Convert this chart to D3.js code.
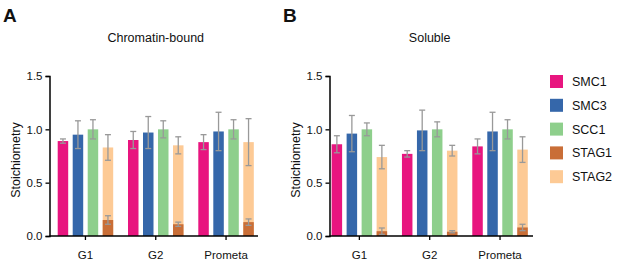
<!DOCTYPE html>
<html>
<head>
<meta charset="utf-8">
<script src="https://cdn.jsdelivr.net/npm/d3@7"></script>
<style>
  body { margin: 0; background: #fff; }
  text { font-family: "Liberation Sans", Arial, sans-serif; fill: #111; }
</style>
</head>
<body>
<div id="main"></div>
<script>
const ctx = {
    w: 617,
    h: 263,
    top: 76,
    bottom: 236,
};

const groups = ["G1", "G2", "Prometa"];
const proteins = ["SMC1", "SMC3", "SCC1", "STAG1", "STAG2"];
const colors = ["#e8157f", "#3567aa", "#8ecf8c", "#c96e37", "#fdca95"];
const yTicks = [0, 0.5, 1.0, 1.5];

// mean values per group, order G1, G2, Prometa
const boundMean = {
    SMC1: [0.89, 0.90, 0.88],
    SMC3: [0.95, 0.97, 0.98],
    SCC1: [1.00, 1.00, 1.00],
    STAG1: [0.15, 0.11, 0.13],
    STAG2: [0.83, 0.85, 0.88],
};
const boundErr = {
    SMC1: [0.02, 0.08, 0.07],
    SMC3: [0.13, 0.15, 0.18],
    SCC1: [0.09, 0.08, 0.09],
    STAG1: [0.04, 0.02, 0.03],
    STAG2: [0.12, 0.08, 0.22],
};
const solubleMean = {
    SMC1: [0.86, 0.77, 0.84],
    SMC3: [0.96, 0.99, 0.98],
    SCC1: [1.00, 1.00, 1.00],
    STAG1: [0.045, 0.04, 0.08],
    STAG2: [0.74, 0.80, 0.81],
};
const solubleErr = {
    SMC1: [0.08, 0.03, 0.07],
    SMC3: [0.17, 0.19, 0.18],
    SCC1: [0.06, 0.07, 0.09],
    STAG1: [0.03, 0.01, 0.03],
    STAG2: [0.11, 0.05, 0.12],
};

// STAG1 drawn in front of STAG2 in the same slot
const slotOf = {SMC1: 0, SMC3: 1, SCC1: 2, STAG2: 3, STAG1: 3};
const drawOrder = ["SMC1", "SMC3", "SCC1", "STAG2", "STAG1"];

const color = d3.scaleOrdinal().domain(proteins).range(colors);
const y = d3.scaleLinear().domain([0, 1.5]).range([ctx.bottom, ctx.top]);

function toRows(mean, err) {
    let rows = [];
    groups.forEach((g, gi) => {
        drawOrder.forEach(p => {
            rows.push({group: g, protein: p, value: mean[p][gi], err: err[p][gi]});
        });
    });
    return rows;
}

function drawPanel(svg, opt) {
    let rows = toRows(opt.mean, opt.err);
    let g = svg.append("g");

    let x0 = d3.scaleBand().domain(groups).range(opt.band).padding(0);
    let x1 = d3.scaleBand().domain([0, 1, 2, 3]).range([0, 60])
        .paddingInner(0.3).paddingOuter(0.15);
    let xPos = d => x0(d.group) + (x0.bandwidth() - 60) / 2 + x1(slotOf[d.protein]);

    g.selectAll("rect.bar")
        .data(rows)
        .enter()
        .append("rect")
        .attr("class", "bar")
        .attr("x", xPos)
        .attr("width", x1.bandwidth())
        .attr("y", d => y(d.value))
        .attr("height", d => y(0) - y(d.value))
        .style("fill", d => color(d.protein));

    // error bars
    let eb = g.selectAll("g.err")
        .data(rows)
        .enter()
        .append("g")
        .attr("class", "err")
        .attr("transform", d => `translate(${xPos(d) + x1.bandwidth() / 2},0)`)
        .style("stroke", "#999")
        .style("stroke-width", 1.3);
    eb.append("line")
        .attr("y1", d => y(d.value - d.err))
        .attr("y2", d => y(d.value + d.err));
    eb.append("line")
        .attr("x1", -3).attr("x2", 3)
        .attr("y1", d => y(d.value + d.err))
        .attr("y2", d => y(d.value + d.err));
    eb.append("line")
        .attr("x1", -3).attr("x2", 3)
        .attr("y1", d => y(d.value - d.err))
        .attr("y2", d => y(d.value - d.err));

    // y axis
    let ya = g.append("g")
        .attr("transform", `translate(${opt.axisX},0)`)
        .call(d3.axisLeft(y).tickValues(yTicks).tickFormat(d3.format(".1f"))
              .tickSizeOuter(0).tickSize(4).tickPadding(3));
    ya.select(".domain").style("stroke", "#000").style("stroke-width", 1.5);
    ya.selectAll(".tick line").style("stroke", "#000").style("stroke-width", 1.3);
    ya.selectAll(".tick text")
        .style("font-family", "Liberation Sans, Arial, sans-serif")
        .style("font-size", "11.5px").style("fill", "#111");

    // x axis
    let xa = g.append("g")
        .attr("transform", `translate(0,${ctx.bottom})`)
        .call(d3.axisBottom(x0).tickSizeOuter(0).tickSize(4).tickPadding(11));
    xa.select(".domain").remove();
    xa.append("line")
        .attr("x1", opt.axisX).attr("x2", opt.axisEnd)
        .style("stroke", "#000").style("stroke-width", 1.5);
    xa.selectAll(".tick line").style("stroke", "#000").style("stroke-width", 1.3);
    xa.selectAll(".tick text")
        .style("font-family", "Liberation Sans, Arial, sans-serif")
        .style("font-size", "11.5px").style("fill", "#111");

    // labels
    g.append("text")
        .attr("x", x0("G2") + x0.bandwidth() / 2)
        .attr("y", 42)
        .attr("text-anchor", "middle")
        .style("font-size", "12.5px")
        .text(opt.title);
    g.append("text")
        .attr("transform", `translate(${opt.axisX - 30},${(ctx.top + ctx.bottom) / 2 + 4}) rotate(-90)`)
        .attr("text-anchor", "middle")
        .style("font-size", "12.5px")
        .text("Stoichiometry");
    g.append("text")
        .attr("x", opt.letterX)
        .attr("y", 22)
        .style("font-size", "19px")
        .style("font-weight", "bold")
        .text(opt.letter);
}

function drawLegend(svg) {
    let lg = svg.append("g").attr("transform", "translate(550,75)");
    let items = lg.selectAll("g")
        .data(proteins)
        .enter()
        .append("g")
        .attr("transform", (d, i) => `translate(0,${i * 23.8})`);
    items.append("rect")
        .attr("width", 13).attr("height", 13)
        .style("fill", d => color(d));
    items.append("text")
        .attr("x", 22).attr("y", 11)
        .style("font-size", "12.5px")
        .text(d => d);
}

function createViz() {
    let svg = d3.select("#main").append("svg")
        .attr("width", ctx.w)
        .attr("height", ctx.h);
    drawPanel(svg, {
        mean: boundMean, err: boundErr, title: "Chromatin-bound", letter: "A",
        letterX: 3, axisX: 49.5, axisEnd: 258, band: [50.3, 261.2],
    });
    drawPanel(svg, {
        mean: solubleMean, err: solubleErr, title: "Soluble", letter: "B",
        letterX: 283, axisX: 329.5, axisEnd: 533, band: [324.2, 535.2],
    });
    drawLegend(svg);
}

createViz();
</script>
</body>
</html>
